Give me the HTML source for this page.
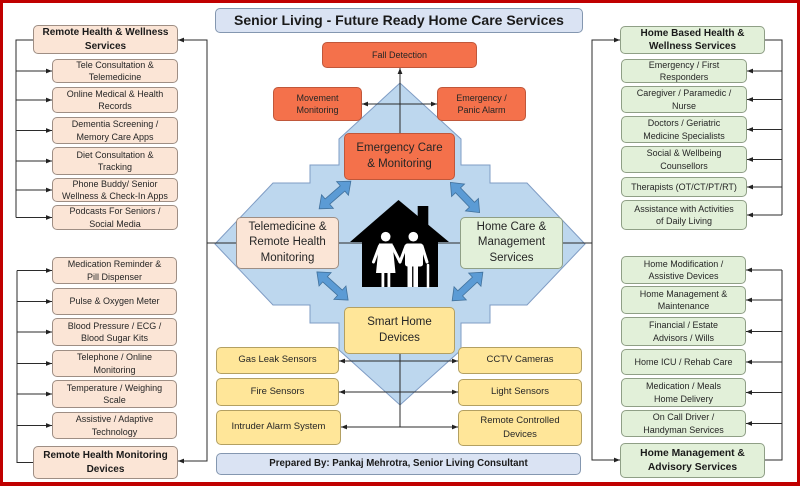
<!DOCTYPE html>
<html><head><meta charset="utf-8">
<style>
*{margin:0;padding:0}
html,body{width:800px;height:486px;overflow:hidden;background:#fff}
#f{position:absolute;left:0;top:0;width:800px;height:486px;box-sizing:border-box;border:3px solid #c00000;border-bottom-width:4px;background:#fff}
svg{position:absolute;left:0;top:0}
.b{position:absolute;box-sizing:border-box;border:1px solid #8c8c8c;border-radius:5px;display:flex;align-items:center;justify-content:center;text-align:center;font-family:"Liberation Sans",sans-serif;color:#262626;font-size:9px;line-height:12.5px}
.p{background:#fbe5d6;border-color:#9e8e84}
.g{background:#e2f0d9;border-color:#8f9f86}
.y{background:#ffe699;border-color:#b3a062}
.o{background:#f4714b;border-color:#c0573a}
.l{background:#dae3f3;border-color:#8497b0}
.h{font-weight:bold;font-size:10px;line-height:13.5px;color:#1a1a1a}
.m{font-size:11.5px;line-height:15.5px}
.s{font-size:9.5px}
</style></head><body>
<div id="f"></div>
<svg width="800" height="486" viewBox="0 0 800 486">
<defs>
<marker id="a" viewBox="0 0 10 10" refX="10" refY="5" markerWidth="6" markerHeight="6" markerUnits="userSpaceOnUse" orient="auto"><path d="M0,1 L10,5 L0,9z" fill="#222"/></marker>
</defs>
<polygon points="400,83 339,139 339,165 310,165 310,183 273,183 215,244 273,305 310,305 310,323 339,323 339,350 400,405 461,350 461,323 490,323 490,305 527,305 585,244 527,183 490,183 490,165 461,165 461,139" fill="#bdd7ee" stroke="#7f9cc4" stroke-width="1"/>
<g fill="none" stroke="#2b2b2b" stroke-width="1">
<path d="M33,40H16V217.5"/>
<line x1="16" y1="71" x2="52" y2="71" marker-end="url(#a)"/>
<line x1="16" y1="100" x2="52" y2="100" marker-end="url(#a)"/>
<line x1="16" y1="130.5" x2="52" y2="130.5" marker-end="url(#a)"/>
<line x1="16" y1="161" x2="52" y2="161" marker-end="url(#a)"/>
<line x1="16" y1="190" x2="52" y2="190" marker-end="url(#a)"/>
<line x1="16" y1="217.5" x2="52" y2="217.5" marker-end="url(#a)"/>
<path d="M33,462.5H17V270.5"/>
<line x1="17" y1="270.5" x2="52" y2="270.5" marker-end="url(#a)"/>
<line x1="17" y1="301.5" x2="52" y2="301.5" marker-end="url(#a)"/>
<line x1="17" y1="332" x2="52" y2="332" marker-end="url(#a)"/>
<line x1="17" y1="363.5" x2="52" y2="363.5" marker-end="url(#a)"/>
<line x1="17" y1="394" x2="52" y2="394" marker-end="url(#a)"/>
<line x1="17" y1="425.5" x2="52" y2="425.5" marker-end="url(#a)"/>
<path d="M765,40H782V215"/>
<line x1="782" y1="71" x2="747" y2="71" marker-end="url(#a)"/>
<line x1="782" y1="99.5" x2="747" y2="99.5" marker-end="url(#a)"/>
<line x1="782" y1="129.5" x2="747" y2="129.5" marker-end="url(#a)"/>
<line x1="782" y1="159.5" x2="747" y2="159.5" marker-end="url(#a)"/>
<line x1="782" y1="187" x2="747" y2="187" marker-end="url(#a)"/>
<line x1="782" y1="215" x2="747" y2="215" marker-end="url(#a)"/>
<path d="M765,460H782V270"/>
<line x1="782" y1="270" x2="746" y2="270" marker-end="url(#a)"/>
<line x1="782" y1="300" x2="746" y2="300" marker-end="url(#a)"/>
<line x1="782" y1="331.5" x2="746" y2="331.5" marker-end="url(#a)"/>
<line x1="782" y1="362" x2="746" y2="362" marker-end="url(#a)"/>
<line x1="782" y1="392.5" x2="746" y2="392.5" marker-end="url(#a)"/>
<line x1="782" y1="423.5" x2="746" y2="423.5" marker-end="url(#a)"/>
<path d="M207,243V40H178" marker-end="url(#a)"/>
<path d="M207,243V461H178" marker-end="url(#a)"/>
<path d="M207,243H592"/>
<path d="M592,243V40H620" marker-end="url(#a)"/>
<path d="M592,243V460H620" marker-end="url(#a)"/>
<path d="M400,133V68" marker-end="url(#a)"/>
<path d="M400,104H362" marker-end="url(#a)"/>
<path d="M400,104H437" marker-end="url(#a)"/>
<path d="M400,354V427"/>
<path d="M400,361H339" marker-end="url(#a)"/>
<path d="M400,361H458" marker-end="url(#a)"/>
<path d="M400,392H339" marker-end="url(#a)"/>
<path d="M400,392H458" marker-end="url(#a)"/>
<path d="M400,427H341" marker-end="url(#a)"/>
<path d="M400,427H458" marker-end="url(#a)"/>
</g>
<g fill="#5b9bd5" stroke="#41719c" stroke-width="0.8">
<polygon transform="translate(335,195) rotate(-41)" points="-21,0 -10,-9 -10,-3.5 10,-3.5 10,-9 21,0 10,9 10,3.5 -10,3.5 -10,9"/>
<polygon transform="translate(465,197.5) rotate(46)" points="-21,0 -10,-9 -10,-3.5 10,-3.5 10,-9 21,0 10,9 10,3.5 -10,3.5 -10,9"/>
<polygon transform="translate(332.5,286) rotate(42)" points="-21,0 -10,-9 -10,-3.5 10,-3.5 10,-9 21,0 10,9 10,3.5 -10,3.5 -10,9"/>
<polygon transform="translate(467.5,286.5) rotate(-43)" points="-21,0 -10,-9 -10,-3.5 10,-3.5 10,-9 21,0 10,9 10,3.5 -10,3.5 -10,9"/>
</g>
<g>
<polygon points="398.5,200 350,242 362,242 362,287 438,287 438,242 449,242" fill="#000"/>
<rect x="417.7" y="206" width="10.6" height="22" fill="#000"/>
<g fill="#fff" stroke="none">
<circle cx="385.7" cy="236.7" r="4.8"/>
<polygon points="379,243.5 392.5,243.5 395.5,273 376,273"/>
<rect x="381.5" y="272" width="2.8" height="15"/>
<rect x="387.5" y="272" width="2.8" height="15"/>
<circle cx="413.3" cy="236.7" r="4.8"/>
<rect x="405" y="243.5" width="18" height="23" rx="2.5"/>
<rect x="407.5" y="264" width="4.6" height="23"/>
<rect x="413.4" y="264" width="4.6" height="23"/>
</g>
<g stroke="#fff" stroke-width="3" stroke-linecap="round" fill="none">
<line x1="379.5" y1="246" x2="373.5" y2="262"/>
<line x1="392" y1="246" x2="400" y2="262"/>
<line x1="406" y1="246" x2="400" y2="262"/>
<line x1="422" y1="246" x2="427" y2="262"/>
<path d="M428,287V265" stroke-width="2.5"/>
</g>
</g>
</svg>

<div class="b l" style="left:215px;top:8px;width:368px;height:25px;font-weight:bold;font-size:14px;color:#1a1a1a">Senior Living - Future Ready Home Care Services</div>

<div class="b p h" style="left:33px;top:25px;width:145px;height:29px">Remote Health &amp; Wellness<br>Services</div>
<div class="b p" style="left:52px;top:59px;width:126px;height:24px">Tele Consultation &amp;<br>Telemedicine</div>
<div class="b p" style="left:52px;top:87px;width:126px;height:26px">Online Medical &amp; Health<br>Records</div>
<div class="b p" style="left:52px;top:117px;width:126px;height:27px">Dementia Screening /<br>Memory Care Apps</div>
<div class="b p" style="left:52px;top:147px;width:126px;height:28px">Diet Consultation &amp;<br>Tracking</div>
<div class="b p" style="left:52px;top:178px;width:126px;height:24px">Phone Buddy/ Senior<br>Wellness &amp; Check-In Apps</div>
<div class="b p" style="left:52px;top:205px;width:126px;height:25px">Podcasts For Seniors /<br>Social Media</div>

<div class="b p" style="left:52px;top:257px;width:125px;height:27px">Medication Reminder &amp;<br>Pill Dispenser</div>
<div class="b p" style="left:52px;top:288px;width:125px;height:27px">Pulse &amp; Oxygen Meter</div>
<div class="b p" style="left:52px;top:318px;width:125px;height:28px">Blood Pressure / ECG /<br>Blood Sugar Kits</div>
<div class="b p" style="left:52px;top:350px;width:125px;height:27px">Telephone / Online<br>Monitoring</div>
<div class="b p" style="left:52px;top:380px;width:125px;height:28px">Temperature / Weighing<br>Scale</div>
<div class="b p" style="left:52px;top:412px;width:125px;height:27px">Assistive / Adaptive<br>Technology</div>
<div class="b p h" style="left:33px;top:446px;width:145px;height:33px">Remote Health Monitoring<br>Devices</div>

<div class="b g h" style="left:620px;top:26px;width:145px;height:28px">Home Based Health &amp;<br>Wellness Services</div>
<div class="b g" style="left:621px;top:59px;width:126px;height:24px">Emergency / First<br>Responders</div>
<div class="b g" style="left:621px;top:86px;width:126px;height:27px">Caregiver / Paramedic /<br>Nurse</div>
<div class="b g" style="left:621px;top:116px;width:126px;height:27px">Doctors / Geriatric<br>Medicine Specialists</div>
<div class="b g" style="left:621px;top:146px;width:126px;height:27px">Social &amp; Wellbeing<br>Counsellors</div>
<div class="b g" style="left:621px;top:177px;width:126px;height:20px">Therapists (OT/CT/PT/RT)</div>
<div class="b g" style="left:621px;top:200px;width:126px;height:30px">Assistance with Activities<br>of Daily Living</div>

<div class="b g" style="left:621px;top:256px;width:125px;height:28px">Home Modification /<br>Assistive Devices</div>
<div class="b g" style="left:621px;top:286px;width:125px;height:28px">Home Management &amp;<br>Maintenance</div>
<div class="b g" style="left:621px;top:317px;width:125px;height:29px">Financial / Estate<br>Advisors / Wills</div>
<div class="b g" style="left:621px;top:349px;width:125px;height:26px">Home ICU / Rehab Care</div>
<div class="b g" style="left:621px;top:378px;width:125px;height:29px">Medication / Meals<br>Home Delivery</div>
<div class="b g" style="left:621px;top:410px;width:125px;height:27px">On Call Driver /<br>Handyman Services</div>
<div class="b g h" style="left:620px;top:443px;width:145px;height:35px;font-size:10.3px;line-height:14px">Home Management &amp;<br>Advisory Services</div>

<div class="b o" style="left:322px;top:42px;width:155px;height:26px">Fall Detection</div>
<div class="b o" style="left:273px;top:87px;width:89px;height:34px">Movement<br>Monitoring</div>
<div class="b o" style="left:437px;top:87px;width:89px;height:34px">Emergency /<br>Panic Alarm</div>
<div class="b o m" style="left:344px;top:133px;width:111px;height:47px">Emergency Care<br>&amp; Monitoring</div>
<div class="b p m" style="left:236px;top:217px;width:103px;height:52px">Telemedicine &amp;<br>Remote Health<br>Monitoring</div>
<div class="b g m" style="left:460px;top:217px;width:103px;height:52px">Home Care &amp;<br>Management<br>Services</div>
<div class="b y m" style="left:344px;top:307px;width:111px;height:47px">Smart Home<br>Devices</div>

<div class="b y s" style="left:216px;top:347px;width:123px;height:27px">Gas Leak Sensors</div>
<div class="b y s" style="left:216px;top:378px;width:123px;height:28px">Fire Sensors</div>
<div class="b y s" style="left:216px;top:410px;width:125px;height:35px">Intruder Alarm System</div>
<div class="b y s" style="left:458px;top:347px;width:124px;height:27px">CCTV Cameras</div>
<div class="b y s" style="left:458px;top:379px;width:124px;height:27px">Light Sensors</div>
<div class="b y s" style="left:458px;top:410px;width:124px;height:36px;line-height:14px">Remote Controlled<br>Devices</div>

<div class="b l" style="left:216px;top:453px;width:365px;height:22px;font-weight:bold;font-size:9.7px;color:#1a1a1a">Prepared By: Pankaj Mehrotra, Senior Living Consultant</div>
</body></html>
